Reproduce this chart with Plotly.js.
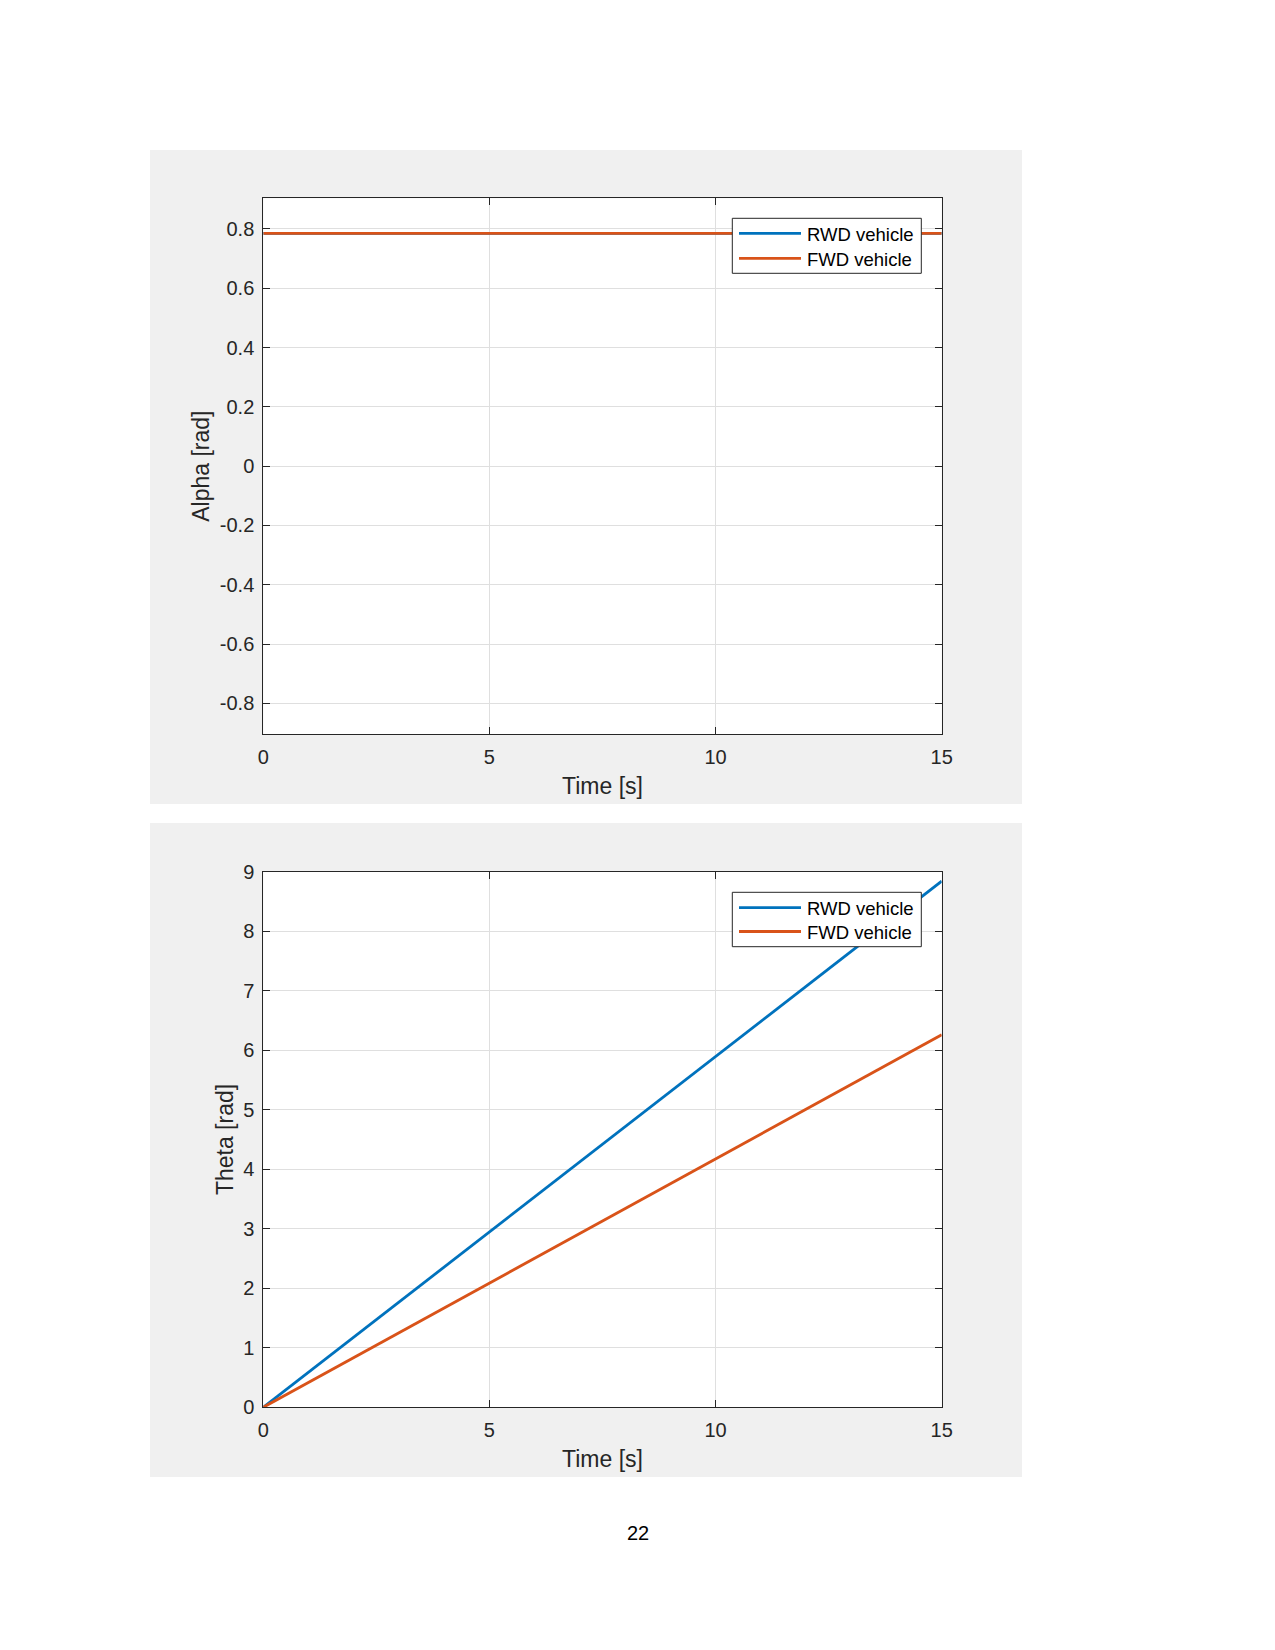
<!DOCTYPE html>
<html>
<head>
<meta charset="utf-8">
<script src="https://cdn.plot.ly/plotly-3.0.1.min.js"></script>
<style>html,body{margin:0;padding:0;background:#fff;}#chart{width:1275px;height:1650px;}</style>
</head>
<body>
<div id="chart"></div>
<script>
// ---- data ----
const timeS = [0, 5, 10, 15];
const alphaRWD = [0.785, 0.785, 0.785, 0.785];
const alphaFWD = [0.785, 0.785, 0.785, 0.785];
const thetaRWD = [0, 2.95, 5.9, 8.84];
const thetaFWD = [0, 2.09, 4.17, 6.26];
const seriesNames = ['RWD vehicle', 'FWD vehicle'];
const xTicks = [0, 5, 10, 15];
const alphaTicks = [-0.8, -0.6, -0.4, -0.2, 0, 0.2, 0.4, 0.6, 0.8];
const alphaTickText = ['-0.8', '-0.6', '-0.4', '-0.2', '0', '0.2', '0.4', '0.6', '0.8'];
const thetaTicks = [0, 1, 2, 3, 4, 5, 6, 7, 8, 9];
const pageNumber = '22';

// ---- styling ----
const W = 1275, H = 1650;
const BLUE = '#0072BD', ORANGE = '#D95319';
const COLORS = [BLUE, ORANGE];
const AX = '#262626', GRID = '#dfdfdf', PANEL = '#f0f0f0';
const FONT = 'Liberation Sans, Arial, Helvetica, sans-serif';
const LW = 2.8;
const px = v => v / W;
const py = v => 1 - v / H;

const xDom = [px(263.3), px(941.7)];
const y1Dom = [py(734), py(198.3)];
const y2Dom = [py(1407.3), py(871.7)];

function xAxis(anchor) {
  return {
    domain: xDom, anchor: anchor, range: [0, 15],
    tickvals: xTicks, ticktext: xTicks.map(String),
    ticks: 'inside', ticklen: 7, tickcolor: AX, tickwidth: 1,
    showline: true, linecolor: AX, linewidth: 1, mirror: 'ticks',
    showgrid: true, gridcolor: GRID, gridwidth: 1, zeroline: false,
    tickfont: {family: FONT, size: 20, color: AX},
    ticklabelstandoff: 5,
    title: {text: 'Time [s]', font: {family: FONT, size: 23, color: AX}, standoff: 10},
    automargin: false, fixedrange: true
  };
}
function yAxis(anchor, dom, range, tv, tt, title) {
  return {
    domain: dom, anchor: anchor, range: range,
    tickvals: tv, ticktext: tt,
    ticks: 'inside', ticklen: 7, tickcolor: AX, tickwidth: 1,
    showline: true, linecolor: AX, linewidth: 1, mirror: 'ticks',
    showgrid: true, gridcolor: GRID, gridwidth: 1, zeroline: false,
    tickfont: {family: FONT, size: 20, color: AX},
    ticklabelstandoff: 4,
    title: {text: title, font: {family: FONT, size: 23, color: AX}, standoff: 3},
    automargin: false, fixedrange: true
  };
}

const traces = [
  {x: timeS, y: alphaRWD, xaxis: 'x', yaxis: 'y', name: seriesNames[0], mode: 'lines',
   line: {color: BLUE, width: LW}},
  {x: timeS, y: alphaFWD, xaxis: 'x', yaxis: 'y', name: seriesNames[1], mode: 'lines',
   line: {color: ORANGE, width: LW}},
  {x: timeS, y: thetaRWD, xaxis: 'x2', yaxis: 'y2', name: seriesNames[0], mode: 'lines',
   line: {color: BLUE, width: LW}},
  {x: timeS, y: thetaFWD, xaxis: 'x2', yaxis: 'y2', name: seriesNames[1], mode: 'lines',
   line: {color: ORANGE, width: LW}}
];

// legend boxes drawn as shapes + text annotations (MATLAB-style legend)
const legendBoxes = [
  {x0: 732.3, x1: 921.3, y0: 218.3, y1: 273.3, rows: [233.3, 258.3]},
  {x0: 732.3, x1: 921.3, y0: 892.3, y1: 946.7, rows: [907.7, 931.5]}
];

const shapes = [
  {type: 'rect', xref: 'paper', yref: 'paper', x0: px(150), x1: px(1022), y0: py(804), y1: py(150),
   fillcolor: PANEL, line: {width: 0}, layer: 'below'},
  {type: 'rect', xref: 'paper', yref: 'paper', x0: px(150), x1: px(1022), y0: py(1477), y1: py(823),
   fillcolor: PANEL, line: {width: 0}, layer: 'below'},
  {type: 'rect', xref: 'paper', yref: 'paper', x0: xDom[0], x1: xDom[1], y0: y1Dom[0], y1: y1Dom[1],
   fillcolor: '#ffffff', line: {width: 0}, layer: 'below'},
  {type: 'rect', xref: 'paper', yref: 'paper', x0: xDom[0], x1: xDom[1], y0: y2Dom[0], y1: y2Dom[1],
   fillcolor: '#ffffff', line: {width: 0}, layer: 'below'}
];
const annotations = [
  {text: pageNumber, xref: 'paper', yref: 'paper', x: px(637.5), y: py(1533),
   xanchor: 'center', yanchor: 'middle', showarrow: false,
   font: {family: FONT, size: 20, color: '#000'}}
];
legendBoxes.forEach(b => {
  shapes.push({type: 'rect', xref: 'paper', yref: 'paper', x0: px(b.x0), x1: px(b.x1),
    y0: py(b.y1), y1: py(b.y0), fillcolor: '#ffffff', line: {color: AX, width: 1}, layer: 'above'});
  b.rows.forEach((ry, i) => {
    shapes.push({type: 'line', xref: 'paper', yref: 'paper', x0: px(739), x1: px(801),
      y0: py(ry), y1: py(ry), line: {color: COLORS[i], width: LW}, layer: 'above'});
    annotations.push({text: seriesNames[i], xref: 'paper', yref: 'paper', x: px(805), y: py(ry + 1),
      xanchor: 'left', yanchor: 'middle', showarrow: false,
      font: {family: FONT, size: 18.5, color: '#000'}});
  });
});

const layout = {
  width: W, height: H,
  margin: {l: 0, r: 0, t: 0, b: 0, pad: 0},
  paper_bgcolor: '#ffffff', plot_bgcolor: 'rgba(0,0,0,0)',
  showlegend: false,
  xaxis: xAxis('y'),
  yaxis: yAxis('x', y1Dom, [-0.903, 0.903], alphaTicks, alphaTickText, 'Alpha [rad]'),
  xaxis2: xAxis('y2'),
  yaxis2: yAxis('x2', y2Dom, [0, 9], thetaTicks, thetaTicks.map(String), 'Theta [rad]'),
  shapes: shapes,
  annotations: annotations
};

Plotly.newPlot('chart', traces, layout, {staticPlot: true, displayModeBar: false});
</script>
</body>
</html>
